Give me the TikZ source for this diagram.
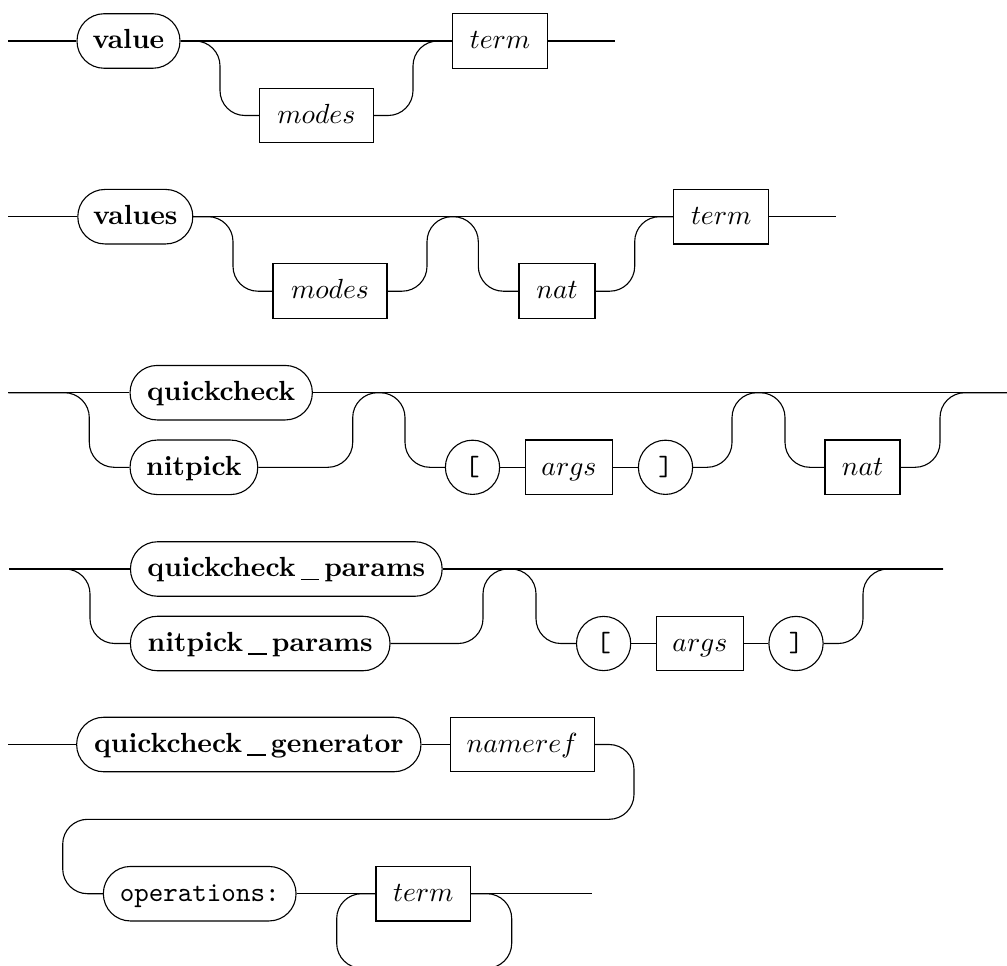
\documentclass[tikz,border=0pt]{standalone}
\newcommand\railus{\kern1.9pt\rule[-1.3pt]{6.6pt}{0.55pt}\kern1.9pt}
\tikzset{
  railbox/.style={draw, minimum height=19.7pt, inner sep=0pt,
    text height=7.2pt, text depth=1.6pt},
  bw/.style={minimum width={#1*0.3614pt}},
  kwbox/.style={railbox, rounded corners=9.8pt, font=\bfseries},
  ntbox/.style={railbox},
  ttcirc/.style={railbox, circle, minimum size=19.6pt, font=\ttfamily},
  ttbox/.style={railbox, rounded corners=9.8pt, font=\ttfamily},
  rail/.style={rounded corners=9pt},
}
\begin{document}
\begin{tikzpicture}[x=0.3614pt,y=-0.3614pt]
\useasboundingbox (0,0) rectangle (1007,965);
\clip (0,0) rectangle (1007,965);

% value
\node[kwbox,bw=103] (value) at (128.5,41) {value};
\node[ntbox,bw=114] (modesA) at (316.3,115.5) {$modes$};
\node[ntbox,bw=94.6] (termA) at (500,41) {$term$};
\coordinate (s1) at (8,41);
\coordinate (a1) at (220,41);
\coordinate (b1) at (413,41);
\coordinate (e1) at (615,41);
\draw (s1) -- (value.west);
\draw (value.east) -- (termA.west);
\draw (termA.east) -- (e1);
\draw[rail] (value.east) -- (a1) |- (modesA.west);
\draw[rail] (modesA.east) -| (b1) -- (termA.west);

% values
\node[kwbox,bw=115] (values) at (135.3,216.7) {values};
\node[ntbox,bw=114] (modesB) at (330,291.2) {$modes$};
\node[ntbox,bw=76] (natA) at (557,291.2) {$nat$};
\node[ntbox,bw=94.6] (termB) at (721.2,216.7) {$term$};
\coordinate (s2) at (8,216.7);
\coordinate (a2) at (233,216.7);
\coordinate (b2) at (427,216.7);
\coordinate (c2) at (478.3,216.7);
\coordinate (d2) at (634.7,216.7);
\coordinate (e2) at (835.6,216.7);
\draw (s2) -- (values.west);
\draw (values.east) -- (termB.west);
\draw (termB.east) -- (e2);
\draw[rail] (values.east) -- (a2) |- (modesB.west);
\draw[rail] (modesB.east) -| (b2) -- (c2) |- (natA.west);
\draw[rail] (natA.east) -| (d2) -- (termB.west);

% quickcheck / nitpick
\node[kwbox,bw=182.3] (qc) at (221.2,392.7) {quickcheck};
\node[kwbox,bw=127.7] (np) at (193.9,467.3) {nitpick};
\node[ttcirc] (lbA) at (472.5,467.3) {[};
\node[ntbox,bw=86.6] (argsA) at (569,467.3) {$args$};
\node[ttcirc] (rbA) at (665.5,467.3) {]};
\node[ntbox,bw=75] (natB) at (862.5,467.3) {$nat$};
\coordinate (s3) at (8.3,392.7);
\coordinate (a3) at (89.3,392.7);
\coordinate (b3) at (352.7,392.7);
\coordinate (c3) at (405,392.7);
\coordinate (d3) at (732,392.7);
\coordinate (f3) at (785,392.7);
\coordinate (g3) at (940,392.7);
\coordinate (e3) at (1010,392.7);
\draw (s3) -- (qc.west);
\draw (qc.east) -- (e3);
\draw[rail] (s3) -- (a3) |- (np.west);
\draw[rail] (np.east) -| (b3) -- (c3) |- (lbA.west);
\draw (lbA.east) -- (argsA.west);
\draw (argsA.east) -- (rbA.west);
\draw[rail] (rbA.east) -| (d3) -- (f3) |- (natB.west);
\draw[rail] (natB.east) -| (g3) -- (e3);

% quickcheck_params / nitpick_params
\node[kwbox,bw=311.7] (qcp) at (286.3,569) {quickcheck\railus params};
\node[kwbox,bw=259.6] (npp) at (260.2,643.5) {nitpick\railus params};
\node[ttcirc] (lbB) at (603.6,643.5) {[};
\node[ntbox,bw=86.6] (argsB) at (699.9,643.5) {$args$};
\node[ttcirc] (rbB) at (796,643.5) {]};
\coordinate (s4) at (9,569);
\coordinate (a4) at (90,569);
\coordinate (b4) at (483,569);
\coordinate (c4) at (536,569);
\coordinate (d4) at (863,569);
\coordinate (e4) at (943,569);
\draw (s4) -- (qcp.west);
\draw (qcp.east) -- (e4);
\draw[rail] (s4) -- (a4) |- (npp.west);
\draw[rail] (npp.east) -| (b4) -- (c4) |- (lbB.west);
\draw (lbB.east) -- (argsB.west);
\draw (argsB.east) -- (rbB.west);
\draw[rail] (rbB.east) -| (d4) -- (e4);

% quickcheck_generator
\node[kwbox,bw=344.3] (gen) at (248.8,744.5) {quickcheck\railus generator};
\node[ntbox,bw=144.3] (nameref) at (522.2,744.5) {$nameref$};
\node[ttbox,bw=192.7] (ops) at (199.7,893.7) {operations:};
\node[ntbox,bw=94.7] (termC) at (423.3,893.7) {$term$};
\coordinate (s5) at (8.3,744.5);
\coordinate (wa) at (634,819.3);
\coordinate (wb) at (62.7,819.3);
\coordinate (la) at (336.7,893.7);
\coordinate (lb) at (511.7,893.7);
\coordinate (lc) at (336.7,968.2);
\coordinate (ld) at (511.7,968.2);
\coordinate (e5) at (591.7,893.7);
\draw (s5) -- (gen.west);
\draw (gen.east) -- (nameref.west);
\draw[rail] (nameref.east) -| (wa) -- (wb) |- (ops.west);
\draw (ops.east) -- (termC.west);
\draw (termC.east) -- (e5);
\draw[rail] (termC.west) -- (la) -- (lc) -- (ld) -- (lb) -- (termC.east);
\end{tikzpicture}
\end{document}
